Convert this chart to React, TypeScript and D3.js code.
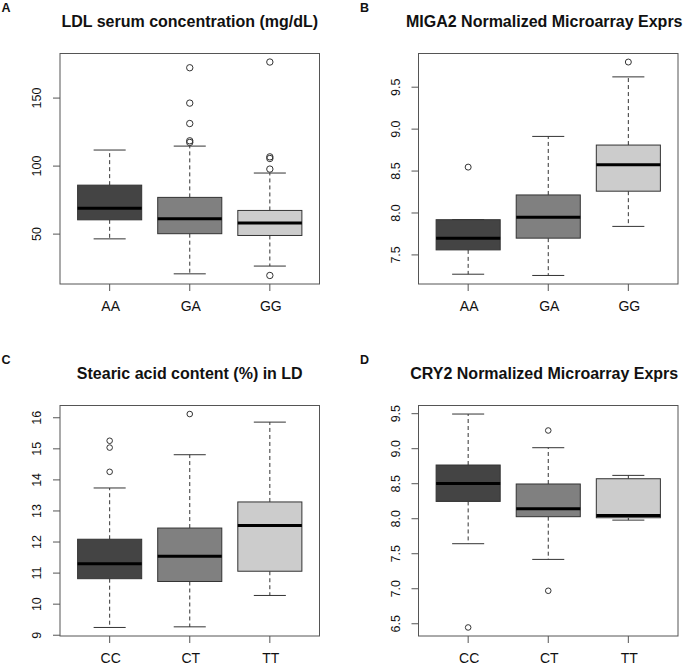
import { scaleLinear, extent } from "d3";

// Panel A: LDL serum concentration
const ldlCats = ["AA", "GA", "GG"];
// [lower whisker, Q1, median, Q3, upper whisker]
const ldlStats = [
  [46.5, 60.5, 69.1, 86.0, 111.8],
  [20.8, 50.3, 61.3, 77.0, 114.7],
  [26.5, 49.0, 58.1, 67.4, 94.9],
];
const ldlOutliers = [[], [172.3, 146.3, 131.3, 118.6, 117.4], [176.5, 106.8, 105.6, 97.8, 19.6]];
const ldlTicks = [50, 100, 150];

// Panel B: MIGA2 expression
const migaCats = ["AA", "GA", "GG"];
const migaStats = [
  [7.27, 7.56, 7.70, 7.92, 7.92],
  [7.255, 7.70, 7.949, 8.215, 8.913],
  [7.84, 8.26, 8.576, 8.81, 9.623],
];
const migaOutliers = [[8.547], [], [9.8]];
const migaTicks = [7.5, 8.0, 8.5, 9.0, 9.5];

// Panel C: Stearic acid content
const stearCats = ["CC", "CT", "TT"];
const stearStats = [
  [9.25, 10.82, 11.3, 12.09, 13.74],
  [9.27, 10.73, 11.54, 12.45, 14.81],
  [10.28, 11.06, 12.53, 13.29, 15.86],
];
const stearOutliers = [[15.26, 15.04, 14.26], [16.12], []];
const stearTicks = [9, 10, 11, 12, 13, 14, 15, 16];

// Panel D: CRY2 expression
const cryCats = ["CC", "CT", "TT"];
const cryStats = [
  [7.643, 8.247, 8.504, 8.767, 9.495],
  [7.419, 8.029, 8.143, 8.496, 9.014],
  [7.98, 8.014, 8.047, 8.571, 8.619],
];
const cryOutliers = [[6.447], [9.26, 6.971], []];
const cryTicks = [6.5, 7.0, 7.5, 8.0, 8.5, 9.0, 9.5];

const FILLS = ["#444444", "#808080", "#cccccc"];
const FONT = "'Liberation Sans', Arial, Helvetica, sans-serif";

interface PanelProps {
  letter: string;
  title: string;
  cats: string[];
  stats: number[][];
  outliers: number[][];
  ticks: number[];
  fmt: (v: number) => string;
  left: number;
  top: number;
  width: number;
  height: number;
  titleShift?: number;
  letterX: number;
  r: number;
}

function BoxPanel({
  letter,
  title,
  cats,
  stats,
  outliers,
  ticks,
  fmt,
  left,
  top,
  width,
  height,
  titleShift = 0,
  letterX,
  r,
}: PanelProps) {
  const all = stats.flat().concat(outliers.flat());
  const [lo, hi] = extent(all) as [number, number];
  const pad = (hi - lo) * 0.04;
  const y = scaleLinear().domain([lo - pad, hi + pad]).range([top + height, top]);
  const n = cats.length;
  const xpad = n * 0.04;
  const x = scaleLinear()
    .domain([0.5 - xpad, n + 0.5 + xpad])
    .range([left, left + width]);
  const bw = x(0.8) - x(0);
  const cw = bw / 2;

  return (
    <g fontFamily={FONT}>
      <text x={letterX} y={top - 42} fontSize={12.5} fontWeight="bold" fill="#111">
        {letter}
      </text>
      <text
        x={left + width / 2 + titleShift}
        y={top - 26.5}
        fontSize={16}
        fontWeight="bold"
        textAnchor="middle"
        fill="#111"
      >
        {title}
      </text>
      {stats.map((s, i) => {
        const cx = x(i + 1);
        const [wl, q1, med, q3, wh] = s;
        return (
          <g key={cats[i]}>
            <line x1={cx} x2={cx} y1={y(q3)} y2={y(wh)} stroke="#333" strokeDasharray="4,3" />
            <line x1={cx} x2={cx} y1={y(q1)} y2={y(wl)} stroke="#333" strokeDasharray="4,3" />
            <line x1={cx - cw / 2} x2={cx + cw / 2} y1={y(wh)} y2={y(wh)} stroke="#333" />
            <line x1={cx - cw / 2} x2={cx + cw / 2} y1={y(wl)} y2={y(wl)} stroke="#333" />
            <rect
              x={cx - bw / 2}
              y={y(q3)}
              width={bw}
              height={y(q1) - y(q3)}
              fill={FILLS[i]}
              stroke="#333"
            />
            <line
              x1={cx - bw / 2}
              x2={cx + bw / 2}
              y1={y(med)}
              y2={y(med)}
              stroke="#000"
              strokeWidth={3}
            />
            {outliers[i].map((o, j) => (
              <circle key={j} cx={cx} cy={y(o)} r={r} fill="none" stroke="#333" />
            ))}
            <line
              x1={cx}
              x2={cx}
              y1={top + height}
              y2={top + height + 7}
              stroke="#555"
            />
            <text
              x={cx + 1}
              y={top + height + 27}
              fontSize={14}
              textAnchor="middle"
              fill="#111"
            >
              {cats[i]}
            </text>
          </g>
        );
      })}
      {ticks.map((t) => (
        <g key={t}>
          <line x1={left - 7} x2={left} y1={y(t)} y2={y(t)} stroke="#555" />
          <text
            transform={`translate(${left - 19},${y(t)}) rotate(-90)`}
            fontSize={12.5}
            textAnchor="middle"
            fill="#111"
          >
            {fmt(t)}
          </text>
        </g>
      ))}
      <rect x={left} y={top} width={width} height={height} fill="none" stroke="#555" />
    </g>
  );
}

export default function App() {
  const W = 259.5;
  const H = 230.5;
  const int = (v: number) => String(v);
  const one = (v: number) => v.toFixed(1);
  return (
    <svg
      width={685}
      height={666}
      style={{ position: "absolute", left: 0, top: 0, background: "#fff" }}
    >
      <BoxPanel
        letter="A"
        title="LDL serum concentration (mg/dL)"
        cats={ldlCats}
        stats={ldlStats}
        outliers={ldlOutliers}
        ticks={ldlTicks}
        fmt={int}
        left={60}
        top={53.5}
        width={W}
        height={H}
        letterX={1.5}
        r={3.2}
      />
      <BoxPanel
        letter="B"
        title="MIGA2 Normalized Microarray Exprs"
        cats={migaCats}
        stats={migaStats}
        outliers={migaOutliers}
        ticks={migaTicks}
        fmt={one}
        left={418.5}
        top={53.5}
        width={W}
        height={H}
        titleShift={-4}
        letterX={360}
        r={3}
      />
      <BoxPanel
        letter="C"
        title="Stearic acid content (%) in LD"
        cats={stearCats}
        stats={stearStats}
        outliers={stearOutliers}
        ticks={stearTicks}
        fmt={int}
        left={60}
        top={405.5}
        width={W}
        height={H}
        letterX={1.5}
        r={2.8}
      />
      <BoxPanel
        letter="D"
        title="CRY2 Normalized Microarray Exprs"
        cats={cryCats}
        stats={cryStats}
        outliers={cryOutliers}
        ticks={cryTicks}
        fmt={one}
        left={418.5}
        top={405.5}
        width={W}
        height={H}
        titleShift={-4}
        letterX={360}
        r={2.8}
      />
    </svg>
  );
}
